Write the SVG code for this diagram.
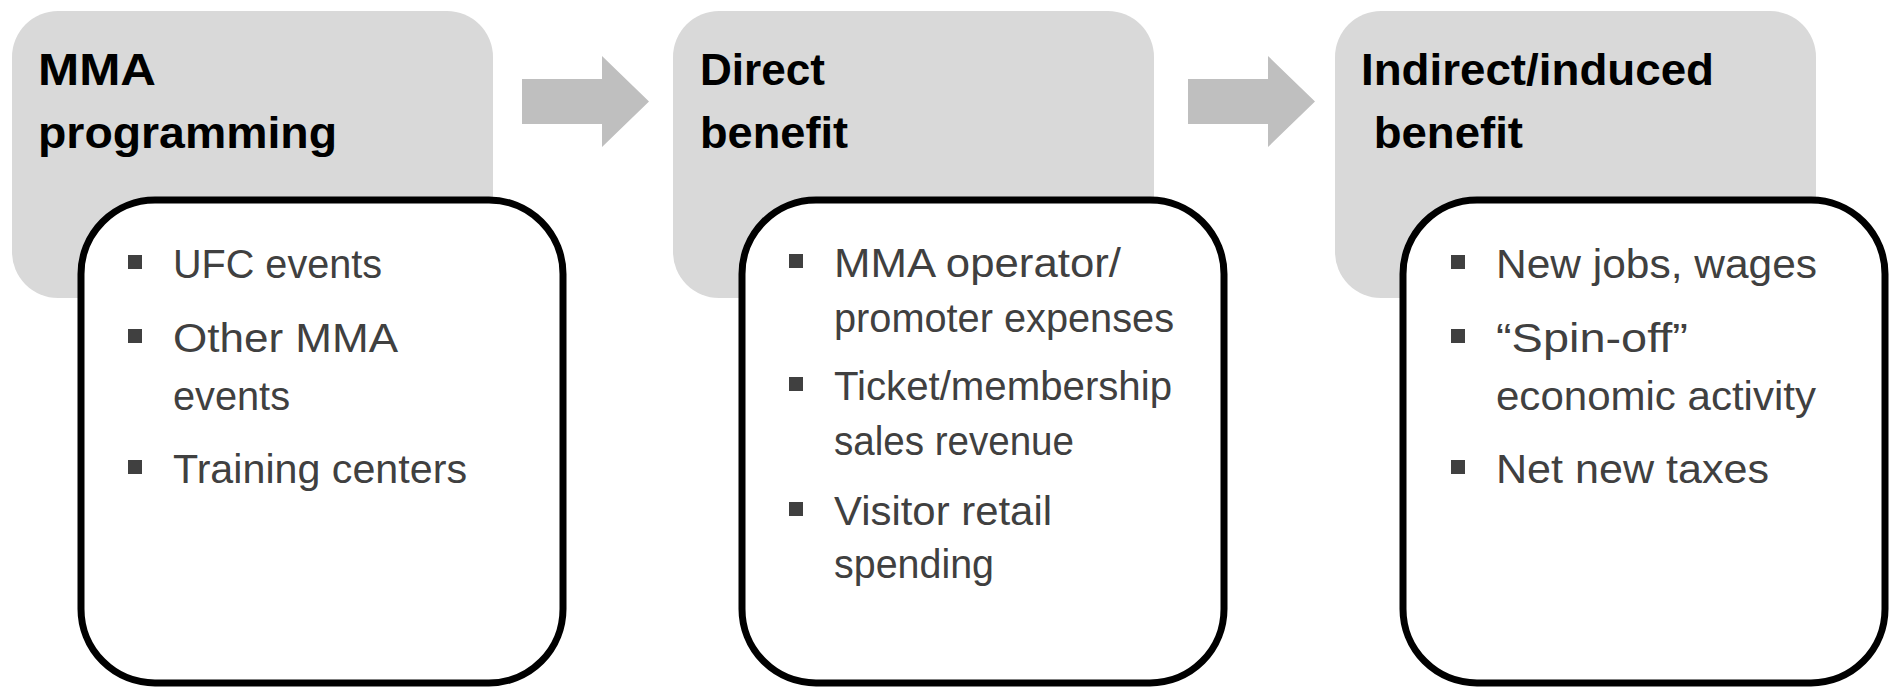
<svg xmlns="http://www.w3.org/2000/svg" width="1891" height="687" viewBox="0 0 1891 687">
<style>
.hdr{fill:#d9d9d9}
.card{fill:#ffffff;stroke:#000000;stroke-width:7}
.title{font-family:"Liberation Sans",Arial,sans-serif;font-weight:bold;font-size:44px;fill:#000000}
.body{font-family:"Liberation Sans",Arial,sans-serif;font-size:40px;fill:#404040}
.bul{fill:#404040}
.arrow{fill:#bfbfbf}
</style>
<rect width="1891" height="687" fill="#ffffff"/>
<g id="connectors">
<polygon class="arrow" points="522,79 602,79 602,56 649,101.5 602,147 602,124 522,124"/>
<polygon class="arrow" points="1188,79 1268,79 1268,56 1315,101.5 1268,147 1268,124 1188,124"/>
</g>
<g id="node-mma-programming">
<rect class="hdr" x="12" y="11" width="481" height="287" rx="46" ry="46"/>
<text class="title" x="38" y="85" textLength="118" lengthAdjust="spacingAndGlyphs">MMA</text>
<text class="title" x="38" y="148" textLength="299" lengthAdjust="spacingAndGlyphs">programming</text>
<rect class="card" x="81" y="200" width="482" height="483" rx="74" ry="74"/>
<rect class="bul" x="128" y="255" width="14" height="14"/>
<rect class="bul" x="128" y="329" width="14" height="14"/>
<rect class="bul" x="128" y="460" width="14" height="14"/>
<text class="body" x="173" y="278" textLength="209" lengthAdjust="spacingAndGlyphs">UFC events</text>
<text class="body" x="173" y="352" textLength="225" lengthAdjust="spacingAndGlyphs">Other MMA</text>
<text class="body" x="173" y="410" textLength="117" lengthAdjust="spacingAndGlyphs">events</text>
<text class="body" x="173" y="483" textLength="294" lengthAdjust="spacingAndGlyphs">Training centers</text>
</g>
<g id="node-direct-benefit">
<rect class="hdr" x="673" y="11" width="481" height="287" rx="46" ry="46"/>
<text class="title" x="700" y="85" textLength="125" lengthAdjust="spacingAndGlyphs">Direct</text>
<text class="title" x="700" y="148" textLength="148" lengthAdjust="spacingAndGlyphs">benefit</text>
<rect class="card" x="742" y="200" width="482" height="483" rx="74" ry="74"/>
<rect class="bul" x="789" y="254" width="14" height="14"/>
<rect class="bul" x="789" y="377" width="14" height="14"/>
<rect class="bul" x="789" y="502" width="14" height="14"/>
<text class="body" x="834" y="277" textLength="287" lengthAdjust="spacingAndGlyphs">MMA operator/</text>
<text class="body" x="834" y="332" textLength="340" lengthAdjust="spacingAndGlyphs">promoter expenses</text>
<text class="body" x="834" y="400" textLength="338" lengthAdjust="spacingAndGlyphs">Ticket/membership</text>
<text class="body" x="834" y="455" textLength="240" lengthAdjust="spacingAndGlyphs">sales revenue</text>
<text class="body" x="834" y="525" textLength="218" lengthAdjust="spacingAndGlyphs">Visitor retail</text>
<text class="body" x="834" y="578" textLength="160" lengthAdjust="spacingAndGlyphs">spending</text>
</g>
<g id="node-indirect-benefit">
<rect class="hdr" x="1335" y="11" width="481" height="287" rx="46" ry="46"/>
<text class="title" x="1361" y="85" textLength="353" lengthAdjust="spacingAndGlyphs">Indirect/induced</text>
<text class="title" x="1361" y="148" xml:space="preserve" textLength="162" lengthAdjust="spacingAndGlyphs"> benefit</text>
<rect class="card" x="1403" y="200" width="482" height="483" rx="74" ry="74"/>
<rect class="bul" x="1451" y="255" width="14" height="14"/>
<rect class="bul" x="1451" y="329" width="14" height="14"/>
<rect class="bul" x="1451" y="460" width="14" height="14"/>
<text class="body" x="1496" y="278" textLength="321" lengthAdjust="spacingAndGlyphs">New jobs, wages</text>
<text class="body" x="1496" y="352" textLength="192" lengthAdjust="spacingAndGlyphs">“Spin-off”</text>
<text class="body" x="1496" y="410" textLength="320" lengthAdjust="spacingAndGlyphs">economic activity</text>
<text class="body" x="1496" y="483" textLength="273" lengthAdjust="spacingAndGlyphs">Net new taxes</text>
</g>
</svg>
